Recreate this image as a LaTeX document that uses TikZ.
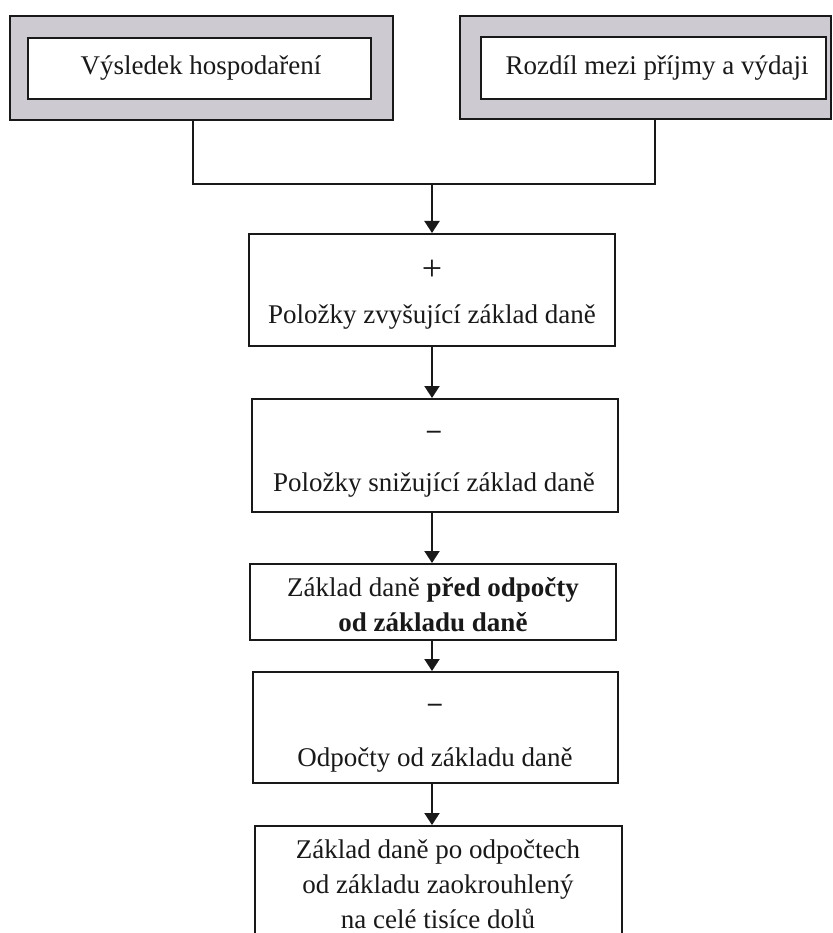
\documentclass[tikz,border=0pt]{standalone}
\usepackage{fontspec}
\setmainfont{Liberation Serif}
\usetikzlibrary{arrows.meta}
\definecolor{outergray}{RGB}{206,202,210}
\definecolor{ink}{RGB}{25,25,25}
\tikzset{
  outerbox/.style={draw=ink, line width=2.6pt, fill=outergray, inner sep=0pt},
  innerbox/.style={draw=ink, line width=2pt, fill=white, inner sep=0pt},
  flowbox/.style={draw=ink, line width=2pt, fill=white, inner sep=0pt},
  txt/.style={text=ink, align=center, inner sep=0pt, font=\fontsize{27}{35}\selectfont},
  sign/.style={text=ink, inner sep=0pt, font=\fontsize{36}{36}\selectfont},
  conn/.style={draw=ink, line width=2pt},
  arr/.style={conn, -{Triangle[length=12pt,width=15pt]}}
}
\begin{document}
\begin{tikzpicture}[x=1pt,y=-1pt]
\useasboundingbox (0,0) rectangle (832,933);
\clip (0,0) rectangle (832,933);
% top boxes
\node[outerbox, minimum width=383pt, minimum height=104pt] (outL) at (201.5,68) {};
\node[innerbox, minimum width=343pt, minimum height=61pt] (inL) at (199.5,68.5) {};
\node[txt] (tL) at (201,68) {Výsledek hospodaření};
\node[outerbox, minimum width=371pt, minimum height=103pt] (outR) at (645.5,67.5) {};
\node[innerbox, minimum width=345pt, minimum height=62pt] (inR) at (653.5,68) {};
\node[txt] (tR) at (657,68) {Rozdíl mezi příjmy a výdaji};
% flow boxes
\node[flowbox, minimum width=366pt, minimum height=112pt] (b1) at (432,290) {};
\node[sign] (s1) at (432,270) {+};
\node[txt] (t1) at (432,317) {Položky zvyšující základ daně};
\node[flowbox, minimum width=366pt, minimum height=113pt] (b2) at (435,455.5) {};
\node[txt] (s2) at (434,435) {\textbf{–}};
\node[txt] (t2) at (434,485) {Položky snižující základ daně};
\node[flowbox, minimum width=366pt, minimum height=76pt] (b3) at (433,602) {};
\node[txt] (t3) at (433,605) {Základ daně \textbf{před odpočty}\\\textbf{od základu daně}};
\node[flowbox, minimum width=365pt, minimum height=111pt] (b4) at (435.5,727.5) {};
\node[txt] (s4) at (435,708) {\textbf{–}};
\node[txt] (t4) at (435,760) {Odpočty od základu daně};
\node[flowbox, minimum width=367pt, minimum height=140pt, anchor=north] (b5) at (438.5,825) {};
\node[txt] (t5) at (438,884) {Základ daně po odpočtech\\od základu zaokrouhlený\\na celé tisíce dolů};
% connectors
\coordinate (j) at (432,184);
\draw[conn] (outL.south -| 193,0) |- (j) -| (outR.south -| 655,0);
\draw[arr] (j) -- (j |- b1.north);
\draw[arr] (b1.south) -- (b1.south |- b2.north);
\draw[arr] (b2.south -| b1.south) -- (b1.south |- b3.north);
\draw[arr] (b3.south -| b1.south) -- (b1.south |- b4.north);
\draw[arr] (b4.south -| b1.south) -- (b1.south |- b5.north);
\end{tikzpicture}
\end{document}
